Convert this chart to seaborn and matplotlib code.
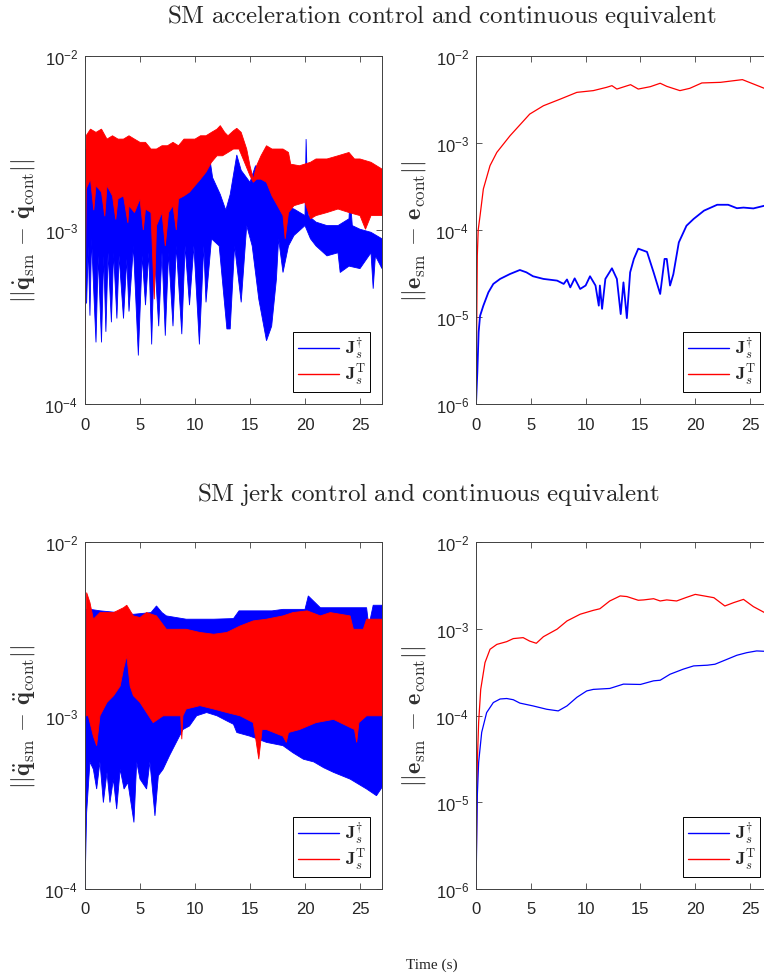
import numpy as np
import pandas as pd
import matplotlib
matplotlib.use('Agg')
import matplotlib.pyplot as plt
import seaborn as sns
from matplotlib.lines import Line2D
from matplotlib.ticker import FixedLocator, FuncFormatter, NullLocator

# ---------------- data ----------------
xticks = [0, 5, 10, 15, 20, 25]

# Top-left: SM acceleration control, joint velocity error (band envelopes)
tl_blue_lo_t = [0, 0.15, 0.3, 0.45, 0.6, 0.8, 1.0, 1.2, 1.5, 1.7, 1.9, 2.1, 2.4, 2.6, 2.9, 3.1, 3.5, 3.8,
                4.0, 4.4, 4.85, 5.2, 5.5, 5.8, 6.06, 6.3, 6.7, 7.0, 7.3, 7.6, 8.0, 8.3, 8.8, 9.1, 9.5, 9.9,
                10.4, 10.8, 11.0, 11.5, 12.2, 12.9, 13.2, 13.6, 14.2, 14.7, 15.2, 15.8, 16.5, 16.97, 17.4,
                17.6, 18.0, 18.5, 19.0, 20.0, 20.5, 21.0, 22.0, 23.0, 23.2, 24.0, 25.0, 26.0, 26.2, 26.4, 27.0]
tl_blue_lo_v = [3.7e-4, 3.84e-4, 8.1e-4, 3.22e-4, 8.9e-4, 4.39e-4, 2.26e-4, 7.1e-4, 2.26e-4, 7.1e-4, 2.6e-4,
                7.4e-4, 2.95e-4, 7.4e-4, 3.1e-4, 7.1e-4, 3.1e-4, 6.8e-4, 3.4e-4, 8.1e-4, 1.9e-4, 7.1e-4,
                3.7e-4, 7.4e-4, 2.2e-4, 7.4e-4, 2.8e-4, 7.4e-4, 2.47e-4, 7.4e-4, 2.8e-4, 8.1e-4, 2.52e-4,
                8.1e-4, 3.7e-4, 8.1e-4, 2.2e-4, 8.1e-4, 3.84e-4, 8.9e-4, 8.1e-4, 2.7e-4, 2.7e-4, 8.1e-4,
                3.84e-4, 1.06e-3, 8.1e-4, 4.0e-4, 2.31e-4, 2.8e-4, 5.2e-4, 8.9e-4, 5.7e-4, 8.1e-4, 9.3e-4,
                1.06e-3, 8.9e-4, 8.1e-4, 7.1e-4, 7.4e-4, 5.7e-4, 6.2e-4, 6.0e-4, 7.4e-4, 4.6e-4, 7.1e-4, 6.0e-4]
tl_blue_hi_t = [0, 1, 3, 5, 7, 9, 10, 11, 11.3, 11.6, 12.3, 12.8, 13.2, 13.8, 14.2, 15, 15.5, 16, 16.5,
                17, 17.5, 18, 19, 20, 20.1, 20.3, 21, 22, 23, 24, 24.1, 24.3, 25, 26, 27]
tl_blue_hi_v = [2.9e-3, 2.9e-3, 2.9e-3, 2.8e-3, 2.8e-3, 2.8e-3, 2.8e-3, 2.5e-3, 2.7e-3, 2.0e-3, 1.6e-3,
                1.3e-3, 1.6e-3, 2.7e-3, 2.2e-3, 1.88e-3, 2.34e-3, 2.24e-3, 2.34e-3, 1.96e-3, 1.38e-3,
                1.38e-3, 1.32e-3, 1.21e-3, 3.33e-3, 1.21e-3, 1.11e-3, 1.06e-3, 1.06e-3, 1.16e-3, 1.57e-3,
                1.06e-3, 1.01e-3, 9.7e-4, 8.9e-4]
tl_red_hi_t = [0, 0.1, 0.5, 1.0, 1.5, 2, 2.5, 3, 3.5, 4, 4.5, 5, 5.5, 6, 6.5, 7, 7.5, 8, 8.5, 9, 9.5, 10,
               10.5, 11, 11.5, 12, 12.3, 12.7, 13, 13.5, 13.8, 14.2, 14.7, 15.0, 15.3, 15.6, 16.0, 16.5, 17,
               17.5, 18, 18.5, 18.7, 19.5, 20.5, 21, 22, 23, 24, 24.5, 25, 26, 27]
tl_red_hi_v = [2.1e-4, 3.48e-3, 3.80e-3, 3.64e-3, 3.80e-3, 3.33e-3, 3.48e-3, 3.33e-3, 3.33e-3, 3.48e-3,
               3.33e-3, 3.19e-3, 3.19e-3, 2.92e-3, 2.92e-3, 3.05e-3, 3.05e-3, 3.19e-3, 3.05e-3, 3.33e-3,
               3.33e-3, 3.33e-3, 3.48e-3, 3.48e-3, 3.64e-3, 3.80e-3, 3.98e-3, 3.64e-3, 3.48e-3, 3.72e-3,
               3.84e-3, 3.64e-3, 2.92e-3, 2.34e-3, 1.96e-3, 2.34e-3, 2.67e-3, 3.05e-3, 2.92e-3, 2.92e-3,
               2.92e-3, 2.79e-3, 2.39e-3, 2.34e-3, 2.45e-3, 2.56e-3, 2.56e-3, 2.67e-3, 2.79e-3, 2.56e-3,
               2.56e-3, 2.45e-3, 2.24e-3]
tl_red_lo_t = [0, 0.1, 0.5, 0.8, 1.0, 1.5, 1.8, 2.0, 2.5, 2.8, 3.0, 3.5, 3.9, 4.0, 4.5, 5.0, 5.3, 5.5, 6.0,
               6.3, 6.5, 7.0, 7.3, 7.6, 8, 8.3, 8.5, 9, 9.5, 10, 10.5, 11, 11.5, 12, 12.5, 13, 13.5, 14,
               14.5, 15.0, 15.3, 15.6, 16, 16.5, 17, 17.5, 18.0, 18.2, 18.5, 19, 20, 20.5, 21, 22, 23, 24,
               25, 25.5, 26, 27]
tl_red_lo_v = [2.1e-4, 1.72e-3, 1.96e-3, 1.3e-3, 1.80e-3, 1.65e-3, 1.2e-3, 1.80e-3, 1.57e-3, 1.15e-3,
               1.51e-3, 1.57e-3, 1.1e-3, 1.38e-3, 1.26e-3, 1.51e-3, 1.0e-3, 1.32e-3, 1.26e-3, 4.0e-4,
               1.06e-3, 1.26e-3, 8.1e-4, 1.26e-3, 1.38e-3, 1.0e-3, 1.51e-3, 1.57e-3, 1.65e-3, 1.80e-3,
               1.96e-3, 2.15e-3, 2.45e-3, 2.67e-3, 2.67e-3, 2.79e-3, 2.92e-3, 2.92e-3, 2.45e-3, 2.05e-3,
               1.88e-3, 1.96e-3, 1.96e-3, 1.88e-3, 1.57e-3, 1.38e-3, 1.21e-3, 8.9e-4, 1.26e-3, 1.38e-3,
               1.44e-3, 1.16e-3, 1.21e-3, 1.26e-3, 1.32e-3, 1.26e-3, 1.21e-3, 1.01e-3, 1.21e-3, 1.21e-3]

# Top-right: SM acceleration control, task error difference
tr_blue_t = [0, 0.12, 0.24, 0.37, 0.67, 1.13, 1.58, 2.2, 3.1, 4.0, 4.6, 5.2, 6.15, 7.4, 8.0, 8.3, 8.6, 9.0,
             9.5, 10.0, 10.4, 10.9, 11.2, 11.3, 11.5, 11.8, 12.4, 12.85, 13.2, 13.45, 13.76, 14.06, 14.4,
             14.8, 15.6, 16.2, 16.8, 17.2, 17.4, 17.7, 18.0, 18.5, 19.2, 19.85, 20.8, 22.0, 23.0, 23.8,
             24.4, 25.3, 26.3, 27.0]
tr_blue_v = [1.0e-6, 2.3e-6, 6.7e-6, 1.03e-5, 1.35e-5, 1.92e-5, 2.4e-5, 2.74e-5, 3.12e-5, 3.47e-5, 3.26e-5,
             2.94e-5, 2.74e-5, 2.62e-5, 2.4e-5, 2.7e-5, 2.19e-5, 2.78e-5, 2.1e-5, 2.3e-5, 2.94e-5, 2.3e-5,
             1.35e-5, 2.3e-5, 1.24e-5, 2.74e-5, 3.63e-5, 2.74e-5, 1.08e-5, 2.5e-5, 9.7e-6, 3.26e-5, 4.65e-5,
             6.1e-5, 5.6e-5, 3.26e-5, 1.84e-5, 4.65e-5, 4.65e-5, 2.3e-5, 3.1e-5, 7.2e-5, 1.12e-4, 1.34e-4,
             1.67e-4, 1.95e-4, 1.95e-4, 1.78e-4, 1.81e-4, 1.77e-4, 1.9e-4, 2.0e-4]
tr_red_t = [0, 0.12, 0.2, 0.37, 0.67, 1.28, 1.9, 3.1, 4.9, 6.15, 7.7, 9.2, 10.7, 11.9, 12.4, 12.85, 14.1,
            14.8, 15.9, 16.8, 17.4, 18.6, 19.5, 20.6, 22.3, 23.5, 24.3, 25.3, 26.3, 27.0]
tr_red_v = [1.0e-6, 5.1e-5, 1.0e-4, 1.46e-4, 2.96e-4, 5.5e-4, 7.8e-4, 1.21e-3, 2.15e-3, 2.68e-3, 3.2e-3,
            3.82e-3, 4.0e-3, 4.36e-3, 4.56e-3, 4.17e-3, 4.68e-3, 4.17e-3, 4.44e-3, 4.86e-3, 4.48e-3,
            4.0e-3, 4.25e-3, 4.9e-3, 4.98e-3, 5.2e-3, 5.35e-3, 4.77e-3, 4.25e-3, 4.1e-3]

# Bottom-left: SM jerk control, joint acceleration error (band envelopes)
bl_blue_hi_t = [0, 0.1, 0.5, 1.4, 3.0, 4.4, 6.0, 6.5, 7.0, 7.4, 9.2, 11.7, 13.5, 14.0, 17.0, 18.0, 20.0,
                20.3, 21.4, 25.6, 25.8, 26.2, 27]
bl_blue_hi_v = [1e-4, 4.09e-3, 4.09e-3, 4.01e-3, 3.92e-3, 3.83e-3, 3.92e-3, 4.28e-3, 3.92e-3, 3.75e-3,
                3.59e-3, 3.59e-3, 3.62e-3, 4.01e-3, 4.01e-3, 4.09e-3, 4.09e-3, 4.89e-3, 4.18e-3, 4.18e-3,
                3.28e-3, 4.32e-3, 4.32e-3]
bl_blue_lo_t = [0, 0.15, 0.45, 0.76, 1.06, 1.36, 1.67, 2.0, 2.27, 2.58, 2.88, 3.2, 3.55, 3.9, 4.45, 4.7,
                5.0, 5.6, 5.9, 6.36, 6.67, 7.1, 7.7, 8.3, 8.9, 9.5, 10.15, 11.06, 12.0, 12.9, 13.5, 13.8,
                15.0, 16.5, 18.0, 18.9, 19.85, 20.8, 21.7, 22.6, 24.1, 25.6, 26.5, 27]
bl_blue_lo_v = [1e-4, 2.76e-4, 5.4e-4, 4.9e-4, 3.77e-4, 5.4e-4, 3.15e-4, 4.7e-4, 3.15e-4, 4.3e-4, 2.89e-4,
                4.9e-4, 3.77e-4, 4.11e-4, 2.42e-4, 5.4e-4, 4.3e-4, 3.77e-4, 5.4e-4, 2.64e-4, 4.5e-4, 4.9e-4,
                5.9e-4, 7.0e-4, 8.3e-4, 8.7e-4, 9.96e-4, 1.04e-3, 9.96e-4, 9.3e-4, 8.9e-4, 7.98e-4, 7.6e-4,
                7.0e-4, 6.7e-4, 6.1e-4, 5.6e-4, 5.4e-4, 5.0e-4, 4.7e-4, 4.3e-4, 3.77e-4, 3.45e-4, 3.85e-4]
bl_red_hi_t = [0, 0.15, 0.45, 0.76, 1.36, 2.0, 2.6, 3.5, 3.8, 4.4, 5.0, 5.6, 6.5, 7.4, 9.2, 10.45, 11.7,
               12.9, 14.1, 15.3, 16.5, 18.0, 18.9, 20.2, 21.4, 22.3, 24.1, 24.4, 25.3, 25.6, 27]
bl_red_hi_v = [9.96e-4, 5.11e-3, 4.48e-3, 3.59e-3, 3.92e-3, 3.92e-3, 3.92e-3, 4.18e-3, 4.32e-3, 3.75e-3,
               3.67e-3, 3.92e-3, 3.75e-3, 3.14e-3, 3.14e-3, 3.01e-3, 2.94e-3, 3.01e-3, 3.28e-3, 3.51e-3,
               3.59e-3, 3.75e-3, 3.92e-3, 4.01e-3, 3.75e-3, 3.92e-3, 3.75e-3, 3.14e-3, 3.14e-3, 3.59e-3,
               3.59e-3]
bl_red_lo_t = [0, 0.3, 0.76, 1.06, 1.36, 2.0, 2.6, 3.2, 3.5, 3.8, 4.1, 4.4, 5.0, 5.6, 6.2, 7.1, 8.0, 8.7,
               8.8, 8.9, 9.2, 10.45, 11.7, 12.9, 14.1, 15.3, 15.8, 16.1, 16.5, 18.0, 18.3, 18.5, 19.5, 21.0,
               22.6, 24.5, 24.7, 24.9, 25.6, 27]
bl_red_lo_v = [9.96e-4, 9.96e-4, 7.6e-4, 6.7e-4, 9.96e-4, 1.19e-3, 1.30e-3, 1.48e-3, 1.85e-3, 2.21e-3,
               1.48e-3, 1.30e-3, 1.19e-3, 1.04e-3, 9.1e-4, 9.96e-4, 9.96e-4, 9.96e-4, 7.3e-4, 9.96e-4,
               1.09e-3, 1.14e-3, 1.09e-3, 1.04e-3, 9.96e-4, 9.1e-4, 5.6e-4, 8.3e-4, 8.3e-4, 7.6e-4, 7.0e-4,
               7.98e-4, 8.3e-4, 9.1e-4, 9.5e-4, 8.3e-4, 7.0e-4, 9.1e-4, 9.96e-4, 9.96e-4]

# Bottom-right: SM jerk control, task error difference
br_blue_t = [0, 0.12, 0.24, 0.52, 0.97, 1.58, 2.2, 2.8, 3.4, 4.0, 5.2, 6.45, 7.5, 8.3, 9.2, 10.1, 10.7,
             12.2, 13.45, 15.0, 16.2, 16.8, 17.7, 18.9, 19.85, 21.1, 21.8, 22.7, 23.8, 24.7, 25.6, 26.3, 27.0]
br_blue_v = [1.0e-6, 1.19e-5, 2.88e-5, 6.4e-5, 1.08e-4, 1.41e-4, 1.55e-4, 1.57e-4, 1.52e-4, 1.39e-4,
             1.29e-4, 1.18e-4, 1.13e-4, 1.29e-4, 1.62e-4, 1.92e-4, 2.0e-4, 2.05e-4, 2.3e-4, 2.28e-4,
             2.51e-4, 2.55e-4, 2.99e-4, 3.42e-4, 3.73e-4, 3.8e-4, 3.9e-4, 4.34e-4, 4.95e-4, 5.3e-4,
             5.55e-4, 5.5e-4, 5.6e-4]
br_red_t = [0, 0.12, 0.24, 0.43, 0.82, 1.28, 1.9, 2.8, 3.4, 4.3, 4.9, 5.5, 6.15, 7.4, 8.3, 9.5, 10.7,
            11.3, 12.2, 13.15, 13.76, 14.8, 15.3, 16.2, 16.8, 17.4, 18.3, 19.2, 20.0, 20.8, 21.7, 22.7,
            23.5, 24.4, 25.3, 26.3, 27.0]
br_red_v = [1.0e-6, 2.9e-5, 8.3e-5, 2.0e-4, 4.07e-4, 5.8e-4, 6.6e-4, 7.1e-4, 7.7e-4, 7.9e-4, 7.2e-4,
            6.8e-4, 8.1e-4, 9.9e-4, 1.23e-3, 1.47e-3, 1.63e-3, 1.7e-3, 2.09e-3, 2.39e-3, 2.35e-3, 2.13e-3,
            2.15e-3, 2.22e-3, 2.09e-3, 2.15e-3, 2.09e-3, 2.3e-3, 2.49e-3, 2.39e-3, 2.28e-3, 1.83e-3,
            2.0e-3, 2.18e-3, 1.8e-3, 1.54e-3, 1.4e-3]

titles = ['SM acceleration control and continuous equivalent',
          'SM jerk control and continuous equivalent']
ylabels = [r'$||\dot{\mathbf{q}}_{\mathrm{sm}}\,-\,\dot{\mathbf{q}}_{\mathrm{cont}}||$',
           r'$||\mathbf{e}_{\mathrm{sm}}\,-\,\mathbf{e}_{\mathrm{cont}}||$',
           r'$||\ddot{\mathbf{q}}_{\mathrm{sm}}\,-\,\ddot{\mathbf{q}}_{\mathrm{cont}}||$',
           r'$||\mathbf{e}_{\mathrm{sm}}\,-\,\mathbf{e}_{\mathrm{cont}}||$']
legend_labels = [r'$\mathbf{J}_s^{\dagger}$', r'$\mathbf{J}_s^{\mathrm{T}}$']
xlabel = 'Time (s)'

BLUE = '#0000ff'
RED = '#ff0000'

# ---------------- figure ----------------
sns.set_theme(style='ticks')
plt.rcParams['font.family'] = ['Liberation Sans', 'DejaVu Sans']
plt.rcParams['mathtext.fontset'] = 'cm'

W, H = 764, 978
fig = plt.figure(figsize=(W / 100, H / 100), dpi=100)


def add_ax(x0, x1, y0, y1):
    return fig.add_axes([x0 / W, 1 - y1 / H, (x1 - x0) / W, (y1 - y0) / H])


ax_tl = add_ax(85, 382, 57, 405)
ax_tr = add_ax(476, 772, 57, 405)
ax_bl = add_ax(85, 382, 543, 890)
ax_br = add_ax(476, 772, 543, 890)


def band(ax, t_hi, v_hi, t_lo, v_lo, color):
    xs = np.concatenate([t_hi, t_lo[::-1]])
    ys = np.concatenate([v_hi, v_lo[::-1]])
    ax.fill(xs, ys, color=color, lw=0.6, ec=color)


def style(ax, ymin_exp, ylabel):
    ax.set_yscale('log')
    ax.set_xlim(0, 27)
    ax.set_ylim(10.0 ** ymin_exp, 1e-2)
    ax.xaxis.set_major_locator(FixedLocator(xticks))
    ax.xaxis.set_major_formatter(FuncFormatter(lambda v, p: '%d' % v))
    ax.yaxis.set_major_locator(FixedLocator([10.0 ** e for e in range(ymin_exp, -1)]))
    ax.yaxis.set_minor_locator(NullLocator())
    ax.yaxis.set_major_formatter(
        FuncFormatter(lambda v, p: r'$\mathregular{10^{%d}}$' % int(round(np.log10(v)))))
    ax.tick_params(which='major', direction='in', top=True, right=True, length=4, width=0.6,
                   color='#404040', labelcolor='#262626', labelsize=12)
    ax.tick_params(axis='x', pad=9)
    ax.tick_params(axis='y', pad=5)
    for s in ax.spines.values():
        s.set_color('#404040')
        s.set_linewidth(0.7)
    ax.set_ylabel(ylabel, fontsize=17.5, color='#303030')
    ax.yaxis.set_label_coords(-0.163, 0.5)
    ax.set_xlabel('')
    handles = [Line2D([], [], color=BLUE, lw=1.0), Line2D([], [], color=RED, lw=1.0)]
    pos = ax.get_position()
    ax_w = pos.width * W
    ax_h = pos.height * H
    leg = ax.legend(handles, legend_labels, loc='lower right',
                    bbox_to_anchor=(1 - 12 / ax_w, 12 / ax_h), borderaxespad=0,
                    fontsize=13, handlelength=2.3, handletextpad=0.3, labelspacing=0.05,
                    borderpad=0.25, fancybox=False, framealpha=1, edgecolor='black')
    leg.get_frame().set_linewidth(0.7)


# left panels: dense switching signals drawn as bands
band(ax_tl, tl_blue_hi_t, tl_blue_hi_v, tl_blue_lo_t, tl_blue_lo_v, BLUE)
band(ax_tl, tl_red_hi_t, tl_red_hi_v, tl_red_lo_t, tl_red_lo_v, RED)
band(ax_bl, bl_blue_hi_t, bl_blue_hi_v, bl_blue_lo_t, bl_blue_lo_v, BLUE)
band(ax_bl, bl_red_hi_t, bl_red_hi_v, bl_red_lo_t, bl_red_lo_v, RED)

# right panels: smooth curves
sns.lineplot(x=tr_red_t, y=tr_red_v, color=RED, lw=0.9, ax=ax_tr, estimator=None, sort=False)
sns.lineplot(x=tr_blue_t, y=tr_blue_v, color=BLUE, lw=1.3, ax=ax_tr, estimator=None, sort=False)
sns.lineplot(x=br_red_t, y=br_red_v, color=RED, lw=0.9, ax=ax_br, estimator=None, sort=False)
sns.lineplot(x=br_blue_t, y=br_blue_v, color=BLUE, lw=0.9, ax=ax_br, estimator=None, sort=False)

style(ax_tl, -4, ylabels[0])
style(ax_tr, -6, ylabels[1])
style(ax_bl, -4, ylabels[2])
style(ax_br, -6, ylabels[3])


def math_rm(s):
    return r'$\mathrm{' + s.replace(' ', r'\ ') + '}$'


fig.text(442 / W, 1 - 16 / H, math_rm(titles[0]),
         ha='center', va='center', fontsize=18, color='#262626')
fig.text(428 / W, 1 - 495 / H, math_rm(titles[1]),
         ha='center', va='center', fontsize=18, color='#262626')
fig.text(432 / W, 1 - 965 / H, xlabel, ha='center', va='center', fontsize=11,
         family=['Liberation Serif', 'DejaVu Serif'], color='#262626')

fig.savefig('out.png', dpi=100)
